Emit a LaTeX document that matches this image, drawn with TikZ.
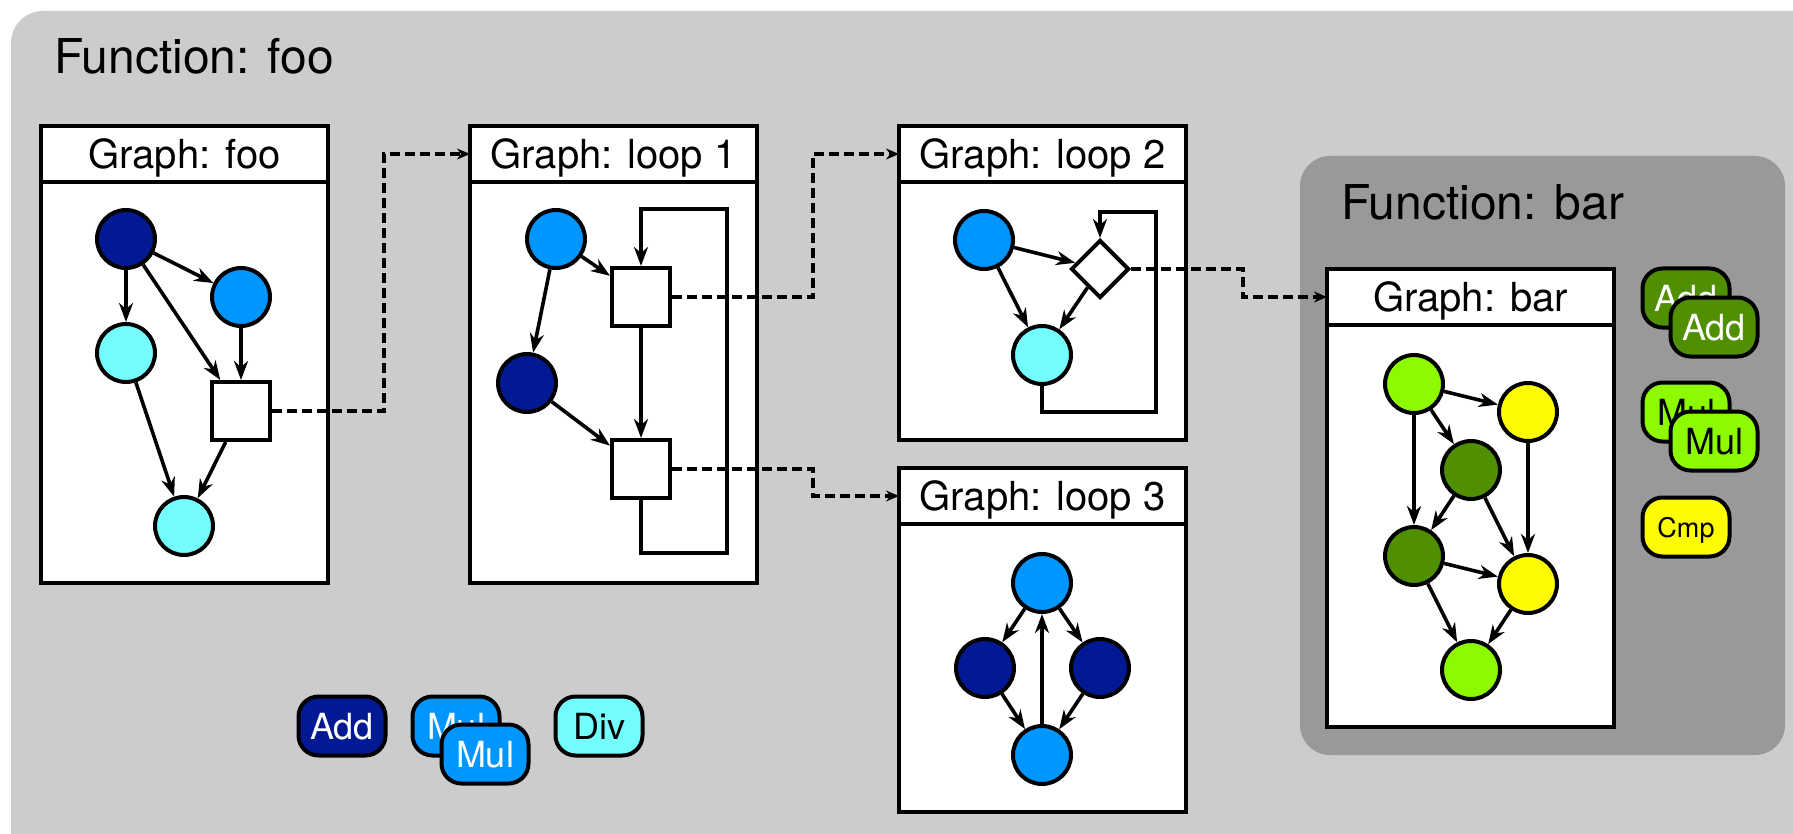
\documentclass[tikz,border=0pt]{standalone}
\usepackage{fontspec}
\setmainfont{TeX Gyre Heros}
\usetikzlibrary{arrows.meta,shapes.geometric}
\definecolor{midnight}{HTML}{011993}
\definecolor{aqua}{HTML}{0096FF}
\definecolor{ice}{HTML}{73FDFF}
\definecolor{fern}{HTML}{4F8F00}
\definecolor{lime}{HTML}{8EFA00}
\definecolor{lemon}{HTML}{FFFB00}
\definecolor{lightbg}{HTML}{CCCCCC}
\definecolor{darkbg}{HTML}{999999}
\begin{document}
\begin{tikzpicture}[x=1pt,y=-1pt,
  op/.style={circle,draw=black,line width=4pt,minimum size=58pt,inner sep=0pt},
  sq/.style={rectangle,draw=black,fill=white,line width=4pt,minimum size=58pt,inner sep=0pt},
  dia/.style={diamond,draw=black,fill=white,line width=4pt,minimum width=58pt,minimum height=58pt,inner sep=0pt},
  edge/.style={line width=3.6pt,-{Stealth[length=19pt,width=14pt,inset=6pt]}},
  link/.style={line width=4pt,dash pattern=on 10pt off 5pt,-{Stealth[length=13pt,width=11pt]}},
  ghead/.style={rectangle,draw=black,fill=white,line width=4.5pt,minimum width=287pt,minimum height=56pt,inner sep=0pt,outer sep=0pt,anchor=north west,font=\fontsize{40}{48}\selectfont,text height=29pt,text depth=0pt},
  gbody/.style={rectangle,draw=black,fill=white,line width=4.5pt,minimum width=287pt,inner sep=0pt,outer sep=0pt,anchor=north west},
  ftitle/.style={anchor=base west,inner sep=0pt,font=\fontsize{48}{58}\selectfont},
  pill/.style={rectangle,rounded corners=20pt,draw=black,line width=4pt,minimum width=87pt,minimum height=59pt,inner sep=0pt,font=\fontsize{36}{43}\selectfont,text height=26pt,text depth=0pt},
]
\fill[white] (0,0) rectangle (1793,834);
\clip (0,0) rectangle (1793,834);
\fill[lightbg,rounded corners=32pt] (11,11) rectangle (1850,900);
\fill[darkbg,rounded corners=30pt] (1300,156) rectangle (1785,755);

\node[ftitle] (ffoo) at (54,74) {Function: foo};
\node[ftitle] (fbar) at (1341,220) {Function: bar};

% graph boxes
\node[gbody,minimum height=401pt] (foobody) at (41,182) {};
\node[ghead] (foohead) at (41,126) {Graph: foo};
\node[gbody,minimum height=401pt] (l1body) at (470,182) {};
\node[ghead] (l1head) at (470,126) {Graph: loop 1};
\node[gbody,minimum height=258pt] (l2body) at (899,182) {};
\node[ghead] (l2head) at (899,126) {Graph: loop 2};
\node[gbody,minimum height=288pt] (l3body) at (899,524) {};
\node[ghead] (l3head) at (899,468) {Graph: loop 3};
\node[gbody,minimum height=402pt] (barbody) at (1327,325) {};
\node[ghead] (barhead) at (1327,269) {Graph: bar};

% foo graph
\node[op,fill=midnight] (fa) at (126,239) {};
\node[op,fill=aqua] (fb) at (241,297) {};
\node[op,fill=ice] (fc) at (126,353) {};
\node[sq] (fs) at (241,411) {};
\node[op,fill=ice] (fd) at (184,526) {};
\draw[edge] (fa) -- (fc);
\draw[edge] (fa) -- (fb);
\draw[edge] (fa) -- (fs);
\draw[edge] (fb) -- (fs);
\draw[edge] (fc) -- (fd);
\draw[edge] (fs) -- (fd);

% loop 1
\node[op,fill=aqua] (ma) at (556,239) {};
\node[sq] (ms1) at (641,297) {};
\node[op,fill=midnight] (mb) at (527,383) {};
\node[sq] (ms2) at (641,469) {};
\draw[edge] (ma) -- (ms1);
\draw[edge] (ma) -- (mb);
\draw[edge] (mb) -- (ms2);
\draw[edge] (ms1) -- (ms2);
\draw[edge] (ms2.south) |- (727,553) -- (727,209) -| (ms1.north);

% loop 2
\node[op,fill=aqua] (na) at (984,240) {};
\node[dia] (nd) at (1100,269) {};
\node[op,fill=ice] (nc) at (1042,355) {};
\draw[edge] (na) -- (nd);
\draw[edge] (na) -- (nc);
\draw[edge] (nd) -- (nc);
\draw[edge] (nc.south) |- (1156,412) -- (1156,212) -| (nd.north);

% loop 3
\node[op,fill=aqua] (ta) at (1042,583) {};
\node[op,fill=midnight] (tl) at (985,668) {};
\node[op,fill=midnight] (tr) at (1100,668) {};
\node[op,fill=aqua] (tb) at (1042,755) {};
\draw[edge] (ta) -- (tl);
\draw[edge] (ta) -- (tr);
\draw[edge] (tl) -- (tb);
\draw[edge] (tr) -- (tb);
\draw[edge] (tb) -- (ta);

% bar
\node[op,fill=lime] (ba) at (1414,384) {};
\node[op,fill=lemon] (by1) at (1528,412) {};
\node[op,fill=fern] (bm) at (1471,470) {};
\node[op,fill=fern] (bl) at (1414,556) {};
\node[op,fill=lemon] (by2) at (1528,584) {};
\node[op,fill=lime] (bb) at (1471,670) {};
\draw[edge] (ba) -- (by1);
\draw[edge] (ba) -- (bm);
\draw[edge] (ba) -- (bl);
\draw[edge] (by1) -- (by2);
\draw[edge] (bm) -- (bl);
\draw[edge] (bm) -- (by2);
\draw[edge] (bl) -- (by2);
\draw[edge] (bl) -- (bb);
\draw[edge] (by2) -- (bb);

% links
\coordinate (j1) at (384,0);
\coordinate (j2) at (813,0);
\coordinate (j3) at (1243,0);
\draw[link] (fs.east) -- (fs.east -| j1) |- (l1head.west);
\draw[link] (ms1.east) -- (ms1.east -| j2) |- (l2head.west);
\draw[link] (ms2.east) -- (ms2.east -| j2) |- (l3head.west);
\draw[link] (nd.east) -- (nd.east -| j3) |- (barhead.west);

% legends
\node[pill,fill=midnight,text=white] (ladd) at (342,726) {Add};
\node[pill,fill=aqua,text=white] (lmul1) at (456,726) {Mul};
\node[pill,fill=aqua,text=white] (lmul2) at (485,754) {Mul};
\node[pill,fill=ice] (ldiv) at (599,726) {Div};
\node[pill,fill=fern,text=white] (radd1) at (1686,298) {Add};
\node[pill,fill=fern,text=white] (radd2) at (1714,327) {Add};
\node[pill,fill=lime] (rmul1) at (1686,412) {Mul};
\node[pill,fill=lime] (rmul2) at (1714,441) {Mul};
\node[pill,fill=lemon,font=\fontsize{27}{32}\selectfont,text height=20pt] (rcmp) at (1686,527) {Cmp};
\end{tikzpicture}
\end{document}
